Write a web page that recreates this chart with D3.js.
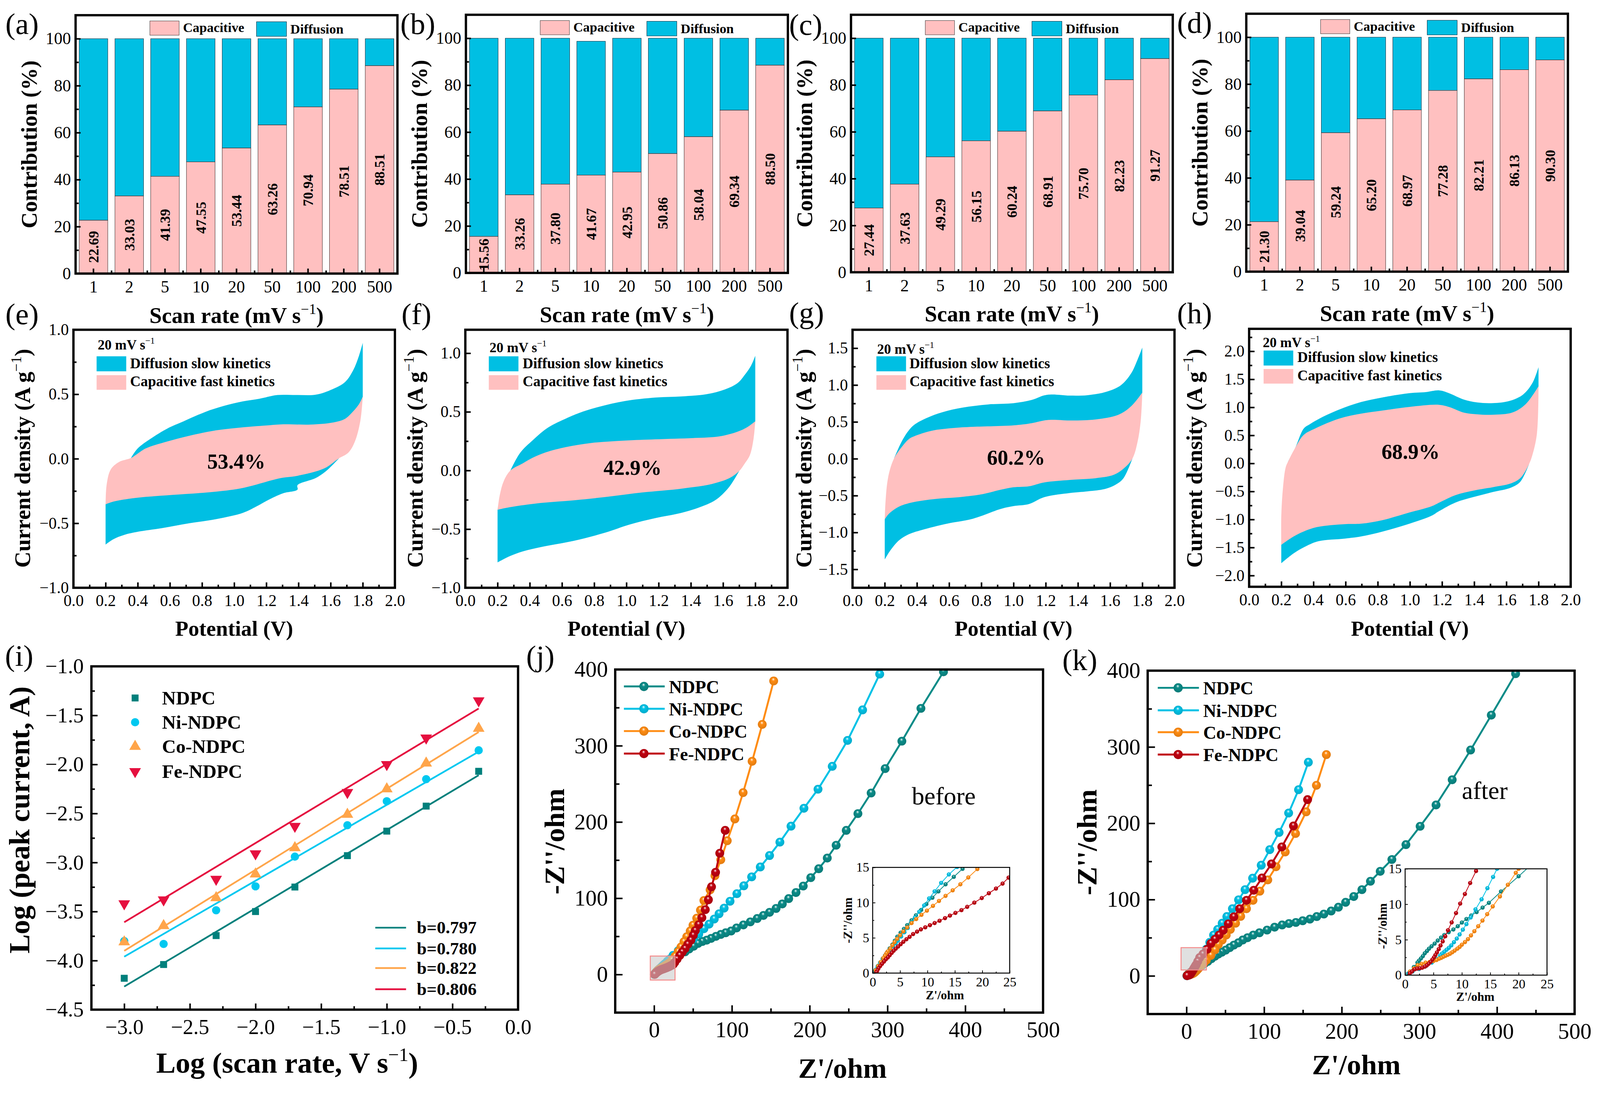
<!DOCTYPE html>
<html lang="en">
<head>
<meta charset="UTF-8">
<title>Capacitive contribution, CV and EIS panels</title>
<style>
  html, body { margin: 0; padding: 0; background: #fff; overflow: hidden; }
  svg { display: block; }
  text { fill: #000; }
</style>
</head>
<body>
<script src="https://cdnjs.cloudflare.com/ajax/libs/d3/7.8.5/d3.min.js"></script>
<script>
// ---- bar panels (a-d)
const scanRates = ['1','2','5','10','20','50','100','200','500'];
const capA = [22.69,33.03,41.39,47.55,53.44,63.26,70.94,78.51,88.51];
const capB = [15.56,33.26,37.80,41.67,42.95,50.86,58.04,69.34,88.50];
const capC = [27.44,37.63,49.29,56.15,60.24,68.91,75.70,82.23,91.27];
const capD = [21.30,39.04,59.24,65.20,68.97,77.28,82.21,86.13,90.30];
const topA = [100,100,100,100,100,100,100,100,100];
const topB = [100,100,100,98.7,100,100,100,100,100];

// ---- CV panels (e-h), [potential, current density]
const eDiffTop = [[.358,.006],[.4,.08],[.48,.155],[.585,.235],[.685,.29],[.82,.363],[.937,.41],[1.055,.445],[1.155,.465],[1.27,.494],[1.39,.494],[1.51,.497],[1.61,.538],[1.69,.595],[1.74,.685],[1.777,.80],[1.8,.898]];
const eDiffBottom = [[1.65,0],[1.575,-.092],[1.508,-.149],[1.394,-.205],[1.394,-.239],[1.306,-.267],[1.222,-.313],[1.138,-.37],[1.055,-.419],[.887,-.468],[.72,-.50],[.55,-.538],[.4,-.566],[.316,-.59],[.248,-.624],[.2,-.665]];
const eCapTop = [[.2,-.353],[.207,-.198],[.232,-.083],[.282,-.026],[.358,.006],[.4,.04],[.45,.08],[.584,.134],[.72,.178],[.887,.22],[1.055,.244],[1.22,.26],[1.306,.267],[1.475,.265],[1.61,.28],[1.69,.31],[1.74,.367],[1.777,.424],[1.8,.481]];
const eCapBottom = [[1.8,.481],[1.785,.293],[1.75,.13],[1.71,.047],[1.65,.002],[1.56,-.075],[1.39,-.133],[1.29,-.15],[1.055,-.226],[.887,-.255],[.618,-.28],[.383,-.304],[.248,-.332],[.2,-.353]];

const fDiffTop = [[.28,0],[.34,.15],[.42,.26],[.515,.367],[.626,.444],[.705,.49],[.83,.543],[.99,.592],[1.18,.622],[1.34,.631],[1.5,.651],[1.61,.69],[1.69,.745],[1.735,.816],[1.775,.897],[1.8,.978]];
const fDiffBottom = [[1.7,-.005],[1.64,-.137],[1.56,-.245],[1.466,-.308],[1.34,-.362],[1.18,-.406],[1.022,-.46],[.864,-.532],[.673,-.60],[.483,-.649],[.357,-.69],[.277,-.73],[.2,-.784]];
const fCapTop = [[.2,-.335],[.214,-.209],[.238,-.092],[.28,0],[.357,.061],[.42,.11],[.5,.155],[.626,.2],[.785,.235],[.99,.255],[1.18,.266],[1.418,.277],[1.577,.291],[1.688,.33],[1.751,.37],[1.8,.42]];
const fCapBottom = [[1.8,.42],[1.79,.277],[1.767,.133],[1.735,.06],[1.70,-.005],[1.64,-.065],[1.53,-.115],[1.34,-.155],[1.1,-.187],[.864,-.227],[.673,-.254],[.467,-.277],[.277,-.313],[.2,-.335]];

const gDiffTop = [[.259,.01],[.303,.224],[.343,.367],[.382,.459],[.46,.553],[.557,.631],[.684,.694],[.842,.737],[1.0,.754],[1.112,.797],[1.19,.86],[1.239,.872],[1.35,.857],[1.461,.863],[1.572,.906],[1.667,.998],[1.73,1.156],[1.77,1.342],[1.8,1.508]];
const gDiffBottom = [[1.738,0],[1.683,-.264],[1.635,-.35],[1.572,-.407],[1.461,-.442],[1.35,-.465],[1.19,-.522],[1.096,-.614],[1.0,-.642],[.921,-.68],[.747,-.814],[.588,-.88],[.43,-.966],[.35,-1.024],[.287,-1.11],[.232,-1.253],[.2,-1.368]];
const gCapTop = [[.2,-.823],[.205,-.58],[.216,-.32],[.232,-.149],[.259,.01],[.303,.152],[.35,.267],[.398,.318],[.493,.381],[.62,.416],[.747,.433],[1.0,.453],[1.112,.482],[1.19,.519],[1.239,.528],[1.35,.519],[1.508,.533],[1.651,.596],[1.73,.711],[1.8,.898]];
const gCapBottom = [[1.8,.898],[1.79,.51],[1.77,.224],[1.738,0],[1.683,-.135],[1.62,-.22],[1.508,-.264],[1.35,-.287],[1.19,-.321],[1.096,-.373],[1.0,-.387],[.921,-.42],[.81,-.479],[.684,-.516],[.493,-.55],[.366,-.594],[.287,-.651],[.224,-.751],[.2,-.823]];

const hDiffTop = [[.243,.038],[.285,.264],[.34,.623],[.377,.698],[.445,.811],[.562,.962],[.696,1.094],[.83,1.177],[.998,1.253],[1.1,1.272],[1.183,1.302],[1.25,1.245],[1.334,1.14],[1.418,1.087],[1.518,1.075],[1.619,1.113],[1.703,1.226],[1.762,1.434],[1.8,1.717]];
const hDiffBottom = [[1.74,-.019],[1.686,-.33],[1.627,-.434],[1.518,-.509],[1.4,-.596],[1.283,-.698],[1.183,-.849],[1.133,-.936],[.998,-1.075],[.83,-1.215],[.696,-1.302],[.596,-1.34],[.428,-1.389],[.344,-1.491],[.277,-1.604],[.2,-1.781]];
const hCapTop = [[.2,-1.453],[.2,-.943],[.21,-.453],[.227,-.075],[.243,.038],[.285,.27],[.34,.509],[.411,.623],[.562,.8],[.696,.887],[.83,.943],[.998,1.008],[1.183,1.045],[1.25,1.0],[1.334,.906],[1.418,.875],[1.518,.868],[1.636,.906],[1.72,1.057],[1.8,1.377]];
const hCapBottom = [[1.8,1.377],[1.79,.528],[1.762,.151],[1.74,-.019],[1.686,-.264],[1.627,-.358],[1.518,-.423],[1.4,-.483],[1.283,-.566],[1.183,-.698],[1.133,-.766],[.998,-.875],[.83,-1.011],[.696,-1.075],[.596,-1.083],[.428,-1.132],[.344,-1.208],[.277,-1.302],[.2,-1.453]];

// ---- log-log panel (i)
const logRate = [-3,-2.7,-2.3,-2,-1.7,-1.3,-1,-.7,-.3];
const iNdpc = [-4.18,-4.04,-3.745,-3.50,-3.25,-2.93,-2.68,-2.425,-2.07];
const iNi = [-3.80,-3.83,-3.487,-3.243,-2.94,-2.62,-2.375,-2.15,-1.856];
const iCo = [-3.81,-3.644,-3.36,-3.118,-2.85,-2.51,-2.25,-1.987,-1.633];
const iFe = [-3.42,-3.38,-3.17,-2.91,-2.63,-2.285,-2.0,-1.73,-1.35];
const fitX = [-3,-.3];
const fitNdpc = [-4.265,-2.11];
const fitNi = [-3.96,-1.87];
const fitCo = [-3.90,-1.67];
const fitFe = [-3.609,-1.43];
const seriesNames = ['NDPC','Ni-NDPC','Co-NDPC','Fe-NDPC'];
const slopeLabels = ['b=0.797','b=0.780','b=0.822','b=0.806'];

// ---- Nyquist panels (j, k), [Z', -Z'']
const jNdpc = [[372,397],[343,349],[318.5,306],[297,270],[279,238],[262,211],[247,189],[234,169.5],[222.6,152.7],[211.6,138.7],[201.4,127],[191.7,116],[182.4,107.5],[173,99.5],[164.8,92.5],[156.8,86.6],[148.4,81.5],[140.5,77.4],[132.5,73.4],[123.7,69],[114.8,65],[106,61],[99,57],[92,54.7],[85.7,52.5],[79.5,50],[73.3,47.3],[67.6,45],[62,43.3],[56.5,40.7],[50.8,37],[45,33.4],[39.8,29.7],[33,26.8],[28,23.5],[24,20.4],[20,17.6],[16.4,14.8],[14.8,13.66],[13.3,12.6],[12,11.6],[10.9,10.7],[9.8,9.8],[8.85,8.96],[7.9,8.2],[7.1,7.5],[6.3,6.8],[5.7,6.27],[5.1,5.74],[4.5,5.17],[4.05,4.6],[3.6,4.04],[3.1,3.5],[2.65,2.95],[2.25,2.5],[1.83,2.04],[1.4,1.5],[1,1.04],[.6,.5],[.3,.13]];
const jNi = [[290,394],[268,347],[248.7,307],[229,273],[210.7,243],[192.6,218],[176,194.5],[161.7,173.6],[148.4,156],[136.5,141],[125.4,128],[115.3,116.3],[106.4,106],[97.6,96],[90,87],[83.5,79.6],[77.3,72.7],[70.7,66],[64,60],[57.4,53],[50.8,47],[44,41.5],[37.5,36],[31,31.2],[24.3,25],[20,20],[17,17.3],[15.4,15.06],[13.9,14],[12.5,12.8],[11.3,11.6],[10.3,10.6],[9.4,9.6],[8.5,8.7],[7.7,7.87],[7,7.2],[6.4,6.4],[5.8,5.8],[5.2,5.2],[4.6,4.6],[4.2,4.2],[3.7,3.8],[3.1,3.2],[2.5,2.7],[1.9,2.1],[1.36,1.5],[.9,.95],[.47,.4]];
const jCo = [[153.7,385],[139,328],[126,279.6],[114.4,238.5],[103.8,204],[94,175.4],[85.7,150.5],[78.2,129.5],[72,111],[64,97],[59.6,84.4],[54.8,73.8],[50,64.6],[46.4,57],[42,49.5],[38.4,43],[34.5,36],[31,30],[27,24],[23,19],[19.1,14.77],[17.45,13.57],[16,12.6],[14.6,11.75],[13.3,10.96],[12.1,10.24],[11,9.54],[9.9,8.87],[8.9,8.27],[7.94,7.67],[7.1,7.1],[6.3,6.47],[5.6,5.92],[5,5.37],[4.47,4.86],[4,4.4],[3.6,3.95],[3.2,3.46],[2.76,3.08],[2.5,2.8],[2.25,2.46],[1.94,2.13],[1.47,1.58],[1,1],[.54,.4]];
const jFe = [[91.4,189],[84.4,159],[79,134],[73.8,115],[69.8,98],[65.8,85],[61.4,74.5],[57.4,65.3],[53,57.6],[50.4,51.4],[47.3,45],[43.3,39.6],[39.8,34],[36.2,29.4],[33,25],[29.6,20.2],[26.5,15.8],[24.8,13.55],[23.7,12.7],[22.5,12],[21.2,11.33],[19.9,10.65],[18.55,10],[17.25,9.4],[16.2,8.94],[15.1,8.54],[14.1,8.16],[13.2,7.8],[12.2,7.43],[11.3,7.1],[10.45,6.8],[9.6,6.5],[8.8,6.2],[8.1,5.88],[7.38,5.54],[6.74,5.15],[6.16,4.8],[5.6,4.44],[5.1,4.1],[4.64,3.77],[4.2,3.46],[3.82,3.17],[3.47,2.86],[3.1,2.53],[2.76,2.22],[2.4,1.95],[2.06,1.64],[1.7,1.31],[1.36,1],[1.05,.67],[.84,.35],[.66,.1]];

const kNdpc = [[424,396],[392.7,341.7],[366,296],[342.3,257],[321.5,224],[301,196],[282.7,172],[264.6,152.5],[249.6,137],[237,124],[226,113],[215.5,104],[205,96.4],[195.7,90],[186.4,85],[177,81],[167.8,77.7],[159,74.4],[149.7,72.2],[140.9,70],[132,68.6],[123.2,66.7],[113.5,63.8],[103.8,60],[94,56.5],[86,53.5],[78.6,50],[72.4,47],[66.7,43.3],[61,40.3],[55.7,37],[50.4,33.7],[45.5,31],[41,28.6],[36.7,25.7],[32.2,22.5],[27.5,19],[23.5,16.5],[20,13.95],[16.9,11.8],[14.76,10.2],[13.65,9.53],[12.6,8.9],[11.64,8.41],[10.8,7.92],[10,7.42],[9.27,6.9],[8.5,6.44],[7.68,6.06],[6.9,5.66],[6.33,5.3],[5.74,4.88],[5.2,4.45],[4.66,4.07],[4.2,3.73],[3.84,3.4],[3.46,3.08],[3.12,2.68],[2.78,2.35],[2.44,2.04],[2.17,1.77],[1.54,1.14],[.86,.5],[.54,.23]];
const kNi = [[157,280],[144.4,244],[131.6,213.4],[119.3,188],[107.3,165.4],[96.3,145],[85.2,128],[75.5,113],[67.1,99.7],[59.2,88],[52,77.7],[46,69],[40.2,60.9],[34.9,53.5],[30,44],[25.6,35],[21.2,25.5],[18,19],[16.2,15],[15.5,13.86],[14.5,12.27],[13.47,10.7],[12.4,9.28],[11.55,8.14],[10.8,7.2],[10.17,6.42],[9.6,5.74],[9.1,5.16],[8.6,4.65],[8.14,4.2],[7.7,3.85],[7.3,3.58],[6.9,3.3],[6.5,3.04],[6.17,2.77],[5.6,2.3],[4.7,1.77],[3.57,1.23],[2.44,.87],[1.3,.5],[.63,.23]];
const kCo = [[180.2,290],[167.4,249.7],[154.2,215],[140.5,186.6],[127.2,162.4],[115.3,143],[104.7,125.8],[94.5,111],[85.7,99],[77.3,88],[69.8,78],[63.2,69],[56.5,60.9],[51.2,53.5],[46,47],[41,41],[36.7,34],[31.4,26.8],[25.6,20.5],[22.5,17],[20,15],[19.5,14.44],[18.1,12.75],[16.7,11.1],[15.44,9.7],[14.46,8.6],[13.63,7.7],[12.88,6.9],[12.2,6.2],[11.6,5.6],[11.07,5.08],[10.55,4.67],[10,4.3],[9.6,3.98],[9.2,3.73],[8.72,3.46],[8.3,3.22],[7.9,3.02],[7.5,2.86],[7.1,2.73],[6.73,2.59],[6.36,2.44],[6,2.32],[5.53,2.13],[5,2],[4.3,1.86],[3.6,1.77],[2.9,1.6],[2.2,1.41],[1.54,.96],[.86,.5]];
const kFe = [[156,231],[137.8,196.5],[122.8,169],[109.5,146.7],[97.2,128.3],[86.6,112.2],[77.3,99],[68.5,88],[61,77.4],[53.9,68.2],[47.3,59.8],[42,53.5],[36.7,48],[31.4,42.5],[26.5,34.8],[21.2,28.6],[17,24],[14.5,19],[12.5,14.7],[11.46,13],[10.53,11.45],[9.7,10.1],[8.97,8.76],[8.2,7.44],[7.55,6.33],[7.07,5.48],[6.62,4.76],[6.24,4.18],[5.92,3.67],[5.6,3.2],[5.33,2.84],[5.08,2.5],[4.8,2.19],[4.47,1.86],[4.13,1.6],[3.8,1.36],[3.46,1.2],[3,1.05],[2.55,.96],[2.1,.92],[1.65,.81],[1.2,.5],[.8,.24]];

// ---- styling and layout
const PINK = '#ffc0c0', BLUE = '#00bfe3';
const seriesColors = ['#0a8c88','#00c2e6','#ff8c12','#c00010'];
const iColors = ['#00807c','#00c8f0','#ffa54a','#e5103f'];
const FONT = "'Liberation Serif'";

// the drawing is laid out on a 4157 x 2822 sheet and scaled to the window
const svg = d3.select('body').append('svg')
  .attr('viewBox', '0 0 4157 2822')
  .attr('preserveAspectRatio', 'xMinYMin meet')
  .style('width', '100vw').style('height', '100vh')
  .attr('font-family', FONT);
const defs = svg.append('defs');

seriesColors.forEach((c, i) => {
  const grad = defs.append('radialGradient').attr('id', 'ball' + i)
    .attr('fx', .45).attr('fy', .28).attr('r', .55);
  grad.append('stop').attr('offset', '0%').attr('stop-color', '#fff');
  grad.append('stop').attr('offset', '32%').attr('stop-color', c);
  grad.append('stop').attr('offset', '100%').attr('stop-color', d3.color(c).darker(.4));
});

// text with an optional superscript part
function label(x, y, size, bold, anchor, rotate, parts) {
  const t = svg.append('text')
    .attr('transform', `translate(${x},${y})` + (rotate ? ' rotate(-90)' : ''))
    .attr('font-size', size)
    .attr('font-weight', bold ? 'bold' : 'normal')
    .attr('text-anchor', anchor);
  const [head, sup, tail] = [].concat(parts);
  t.append('tspan').text(head);
  if (sup) {
    t.append('tspan').attr('dy', -size * .4).attr('font-size', size * .65).attr('font-weight', 'normal').text(sup);
    t.append('tspan').attr('dy', size * .4).text(tail);
  }
  return t;
}

function styleAxis(sel, fontSize, width) {
  sel.select('.domain').remove();
  sel.selectAll('line').attr('stroke', '#000').attr('stroke-width', width);
  sel.selectAll('text').attr('font-size', fontSize).attr('font-family', FONT).attr('fill', '#000');
}

// major + minor ticks on bottom and left, all pointing inward
function drawAxes(box, x, y, o) {
  const g = svg.append('g');
  const bottom = d3.axisBottom(x).tickSize(-o.major).tickPadding(o.padX);
  if (o.xTicks) bottom.tickValues(o.xTicks);
  if (o.xFormat) bottom.tickFormat(o.xFormat);
  g.append('g').attr('transform', `translate(0,${box.B})`).call(bottom).call(styleAxis, o.size, o.stroke);
  const minorScale = o.xMinorScale || x;
  g.append('g').attr('transform', `translate(0,${box.B})`)
    .call(d3.axisBottom(minorScale).tickValues(o.xMinor).tickSize(-o.minor).tickFormat(''))
    .call(styleAxis, o.size, o.stroke);
  g.append('g').attr('transform', `translate(${box.L},0)`)
    .call(d3.axisLeft(y).tickValues(o.yTicks).tickSize(-o.major).tickPadding(o.padY).tickFormat(o.yFormat || d3.format('d')))
    .call(styleAxis, o.size, o.stroke);
  g.append('g').attr('transform', `translate(${box.L},0)`)
    .call(d3.axisLeft(y).tickValues(o.yMinor).tickSize(-o.minor).tickFormat(''))
    .call(styleAxis, o.size, o.stroke);
  svg.append('rect').attr('x', box.L).attr('y', box.T)
    .attr('width', box.R - box.L).attr('height', box.B - box.T)
    .attr('fill', 'none').attr('stroke', '#000').attr('stroke-width', o.frame);
}

function clipFor(id, box) {
  defs.append('clipPath').attr('id', id).append('rect')
    .attr('x', box.L).attr('y', box.T).attr('width', box.R - box.L).attr('height', box.B - box.T);
  return `url(#${id})`;
}

// ---- a-d
const barPanels = [
  { name: '(a)', cap: capA, top: topA, box: { L: 196.4, R: 1032.6, T: 39.5, B: 711 }, lx: 14, ly: 88 },
  { name: '(b)', cap: capB, top: topB, box: { L: 1210.5, R: 2047, T: 38.4, B: 709.3 }, lx: 1040, ly: 88 },
  { name: '(c)', cap: capC, top: topA, box: { L: 2211, R: 3047, T: 38.4, B: 707.6 }, lx: 2050, ly: 90 },
  { name: '(d)', cap: capD, top: topA, box: { L: 3238, R: 4073.6, T: 35.7, B: 706 }, lx: 3058, ly: 85 }
];

barPanels.forEach(p => {
  const b = p.box;
  const x = d3.scaleBand().domain(scanRates).range([b.L, b.R]).paddingInner(.2).paddingOuter(.1);
  const y = d3.scaleLinear().domain([0, 110]).range([b.B, b.T]);
  const g = svg.append('g');
  g.selectAll('.diff').data(scanRates).enter().append('rect')
    .attr('x', d => x(d)).attr('width', x.bandwidth())
    .attr('y', (d, i) => y(p.top[i])).attr('height', (d, i) => y(p.cap[i]) - y(p.top[i]))
    .attr('fill', BLUE).attr('stroke', '#123').attr('stroke-width', 1);
  g.selectAll('.cap').data(scanRates).enter().append('rect')
    .attr('x', d => x(d)).attr('width', x.bandwidth())
    .attr('y', (d, i) => y(p.cap[i])).attr('height', (d, i) => y(0) - y(p.cap[i]))
    .attr('fill', PINK).attr('stroke', '#322').attr('stroke-width', 1);
  drawAxes(b, x, y, {
    major: 13, minor: 8, padX: 18, padY: 12, size: 44, stroke: 4, frame: 6,
    xMinorScale: d3.scaleLinear().domain([0, 9]).range([b.L, b.R]),
    xMinor: d3.range(1, 9),
    yTicks: d3.range(0, 101, 20), yMinor: d3.range(10, 100, 20)
  });
  scanRates.forEach((d, i) => {
    label(x(d) + x.bandwidth() / 2 + 13, (y(0) + y(p.cap[i])) / 2, 37, true, 'middle', true, p.cap[i].toFixed(2));
  });
  // legend
  svg.append('rect').attr('x', b.L + 193).attr('y', b.T + 15).attr('width', 76).attr('height', 37)
    .attr('fill', PINK).attr('stroke', '#333').attr('stroke-width', 1);
  label(b.L + 279, b.T + 44, 35, true, 'start', false, 'Capacitive');
  svg.append('rect').attr('x', b.L + 470).attr('y', b.T + 17).attr('width', 78).attr('height', 38)
    .attr('fill', BLUE).attr('stroke', '#123').attr('stroke-width', 1);
  label(b.L + 558, b.T + 48, 35, true, 'start', false, 'Diffusion');

  label(b.L - 101, (b.T + b.B) / 2, 58, true, 'middle', true, 'Contribution (%)');
  label((b.L + b.R) / 2, b.B + 128, 58, true, 'middle', false, ['Scan rate (mV s', '\u22121', ')']);
  label(p.lx, p.ly, 78, false, 'start', false, p.name);
});

// ---- e-h
const cvLine = d3.line().x(d => d[0]).y(d => d[1]).curve(d3.curveCatmullRom.alpha(.5));
const cvPanels = [
  { name: '(e)', pct: '53.4%', lx: 14, ly: 842, box: { L: 190.8, R: 1026, T: 857, B: 1527.6 }, dom: [-1, 1],
    top: eDiffTop, bot: eDiffBottom, capTop: eCapTop, capBot: eCapBottom,
    yTicks: [-1, -.5, 0, .5, 1], yMinor: [-.75, -.25, .25, .75], titleX: 78.5,
    px: 614, py: 1218, noteX: 254, noteY: 908, boxX: 251, textX: 338, rowY: [926, 975], textY: [957, 1004] },
  { name: '(f)', pct: '42.9%', lx: 1043, ly: 842, box: { L: 1209, R: 2046, T: 857, B: 1527.6 }, dom: [-1, 1.2],
    top: fDiffTop, bot: fDiffBottom, capTop: fCapTop, capBot: fCapBottom,
    yTicks: [-1, -.5, 0, .5, 1], yMinor: [-.75, -.25, .25, .75], titleX: 1098,
    px: 1643.6, py: 1234, noteX: 1272, noteY: 915, boxX: 1270, textX: 1358, rowY: [926, 975], textY: [957, 1004] },
  { name: '(g)', pct: '60.2%', lx: 2050, ly: 839, box: { L: 2215, R: 3051.5, T: 857, B: 1527.6 }, dom: [-1.75, 1.75],
    top: gDiffTop, bot: gDiffBottom, capTop: gCapTop, capBot: gCapBottom,
    yTicks: [-1.5, -1, -.5, 0, .5, 1, 1.5], yMinor: [-1.25, -.75, -.25, .25, .75, 1.25], titleX: 2108,
    px: 2640, py: 1208, noteX: 2279, noteY: 919, boxX: 2277, textX: 2363, rowY: [926, 975], textY: [957, 1004] },
  { name: '(h)', pct: '68.9%', lx: 3058, ly: 840, box: { L: 3245.4, R: 4080.8, T: 854.6, B: 1525 }, dom: [-2.2, 2.4],
    top: hDiffTop, bot: hDiffBottom, capTop: hCapTop, capBot: hCapBottom,
    yTicks: [-2, -1.5, -1, -.5, 0, .5, 1, 1.5, 2], yMinor: [-1.75, -1.25, -.75, -.25, .25, .75, 1.25, 1.75, 2.25], titleX: 3123,
    px: 3665, py: 1192, noteX: 3281, noteY: 902, boxX: 3283, textX: 3370.6, rowY: [911, 959], textY: [941, 989] }
];

cvPanels.forEach(p => {
  const b = p.box;
  const x = d3.scaleLinear().domain([0, 2]).range([b.L, b.R]);
  const y = d3.scaleLinear().domain(p.dom).range([b.B, b.T]);
  const px = pts => pts.map(d => [x(d[0]), y(d[1])]);
  const capFirst = p.capTop[0], capLast = p.capTop[p.capTop.length - 1];
  const diffPath = cvLine(px(p.top))
    + `L${x(capLast[0])},${y(capLast[1])}`
    + cvLine(px(p.bot)).replace('M', 'L')
    + `L${x(capFirst[0])},${y(capFirst[1])}Z`;
  svg.append('path').attr('d', diffPath).attr('fill', BLUE);
  svg.append('path').attr('d', cvLine(px(p.capTop)) + cvLine(px(p.capBot)).replace('M', 'L') + 'Z').attr('fill', PINK);
  drawAxes(b, x, y, {
    major: 14, minor: 8, padX: 18, padY: 12, size: 42, stroke: 4, frame: 6,
    xTicks: d3.range(0, 2.01, .2), xFormat: d3.format('.1f'),
    xMinor: d3.range(.1, 2, .2),
    yTicks: p.yTicks, yMinor: p.yMinor, yFormat: d3.format('.1f')
  });
  label(p.noteX, p.noteY, 36, true, 'start', false, ['20 mV s', '\u22121', '']);
  svg.append('rect').attr('x', p.boxX).attr('y', p.rowY[0]).attr('width', 77).attr('height', 39).attr('fill', BLUE);
  svg.append('rect').attr('x', p.boxX).attr('y', p.rowY[1]).attr('width', 77).attr('height', 38).attr('fill', PINK);
  label(p.textX, p.textY[0], 38, true, 'start', false, 'Diffusion slow kinetics');
  label(p.textX, p.textY[1], 38, true, 'start', false, 'Capacitive fast kinetics');
  label(p.px, p.py, 55, true, 'middle', false, p.pct);
  label(p.titleX, 1191, 58, true, 'middle', true, ['Current density (A g', '\u22121', ')']);
  label((b.L + b.R) / 2, 1652, 56, true, 'middle', false, 'Potential (V)');
  label(p.lx, p.ly, 78, false, 'start', false, p.name);
});

// ---- i
{
  const b = { L: 237.5, R: 1346, T: 1731.8, B: 2624 };
  const x = d3.scaleLinear().domain([-3.25, 0]).range([b.L, b.R]);
  const y = d3.scaleLinear().domain([-4.5, -1]).range([b.B, b.T]);
  const symbols = [
    d3.symbol().type(d3.symbolSquare).size(324)(),
    d3.symbol().type(d3.symbolCircle).size(360)(),
    d3.symbol().type(d3.symbolTriangle).size(400)(),
    d3.symbol().type(d3.symbolTriangle).size(400)()
  ];
  const turn = [0, 0, 0, 180];
  [iNdpc, iNi, iCo, iFe].forEach((vals, s) => {
    const fit = [fitNdpc, fitNi, fitCo, fitFe][s];
    svg.append('line')
      .attr('x1', x(fitX[0])).attr('y1', y(fit[0]))
      .attr('x2', x(fitX[1])).attr('y2', y(fit[1]))
      .attr('stroke', iColors[s]).attr('stroke-width', 4.5);
    svg.append('g').selectAll('path').data(vals).enter().append('path')
      .attr('d', symbols[s])
      .attr('transform', (d, i) => `translate(${x(logRate[i])},${y(d)}) rotate(${turn[s]})`)
      .attr('fill', iColors[s]);
  });
  drawAxes(b, x, y, {
    major: 16, minor: 9, padX: 24, padY: 20, size: 55, stroke: 4, frame: 6,
    xTicks: d3.range(-3, .01, .5), xFormat: d3.format('.1f'),
    xMinor: d3.range(-2.75, 0, .5),
    yTicks: d3.range(-4.5, -.99, .5), yMinor: d3.range(-4.25, -1, .5), yFormat: d3.format('.1f')
  });
  const legendY = [1814, 1877, 1940, 2005];
  seriesNames.forEach((n, s) => {
    svg.append('path').attr('d', symbols[s])
      .attr('transform', `translate(351,${legendY[s]}) rotate(${turn[s]})`)
      .attr('fill', iColors[s]);
    label(421, legendY[s] + 17, 50, true, 'start', false, n);
  });
  const slopeY = [2411, 2465, 2516, 2571];
  slopeLabels.forEach((n, s) => {
    svg.append('line').attr('x1', 975).attr('x2', 1055).attr('y1', slopeY[s]).attr('y2', slopeY[s])
      .attr('stroke', iColors[s]).attr('stroke-width', 4.5);
    label(1083, slopeY[s] + 15, 46, true, 'start', false, n);
  });
  label(76, 2131, 75, true, 'middle', true, 'Log (peak current, A)');
  label(746, 2788, 76, true, 'middle', false, ['Log (scan rate, V s', '\u22121', ')']);
  label(13, 1730, 78, false, 'start', false, '(i)');
}

// ---- j, k
const nyLine = d3.line().x(d => d[0]).y(d => d[1]);

function drawSeries(id, box, x, y, data, r, width) {
  const clip = clipFor(id, box);
  const g = svg.append('g').attr('clip-path', clip);
  data.forEach((pts, s) => {
    g.append('path').attr('d', nyLine(pts.map(d => [x(d[0]), y(d[1])])))
      .attr('fill', 'none').attr('stroke', seriesColors[s]).attr('stroke-width', width);
    g.append('g').selectAll('circle').data(pts).enter().append('circle')
      .attr('cx', d => x(d[0])).attr('cy', d => y(d[1])).attr('r', r)
      .attr('fill', `url(#ball${s})`);
  });
}

const nyPanels = [
  { id: 'j', name: '(j)', lx: 1367, ly: 1731, word: 'before', wx: 2369, wy: 2091, data: [jNdpc, jNi, jCo, jFe],
    box: { L: 1598.4, R: 2710, T: 1740, B: 2631.7 }, rect: [-4.9, 26.9, -7.3, 24.2],
    leg: { x1: 1621, x2: 1727, cx: 1673, tx: 1738, ys: [1784, 1842, 1900, 1958.5] },
    yTitleX: 1465, yTitleY: 2187, xTitleX: 2189, xTitleY: 2801,
    inset: { box: { L: 2267.3, R: 2623.3, T: 2254.3, B: 2529 }, xt: [2455, 2597], yt: [2213, 2392] } },
  { id: 'k', name: '(k)', lx: 2760, ly: 1742, word: 'after', wx: 3798, wy: 2076, data: [kNdpc, kNi, kCo, kFe],
    box: { L: 2981.8, R: 4091, T: 1743, B: 2635.4 }, rect: [-7, 25.6, 7.7, 37],
    leg: { x1: 3008, x2: 3115, cx: 3061, tx: 3126, ys: [1787.6, 1846, 1903, 1961] },
    yTitleX: 2849, yTitleY: 2189, xTitleX: 3524, xTitleY: 2792,
    inset: { box: { L: 3650.7, R: 4019.3, T: 2258, B: 2534.3 }, xt: [3833, 2601], yt: [3603, 2407] } }
];

nyPanels.forEach(p => {
  const b = p.box;
  const x = d3.scaleLinear().domain([-50, 500]).range([b.L, b.R]);
  const y = d3.scaleLinear().domain([-50, 400]).range([b.B, b.T]);
  drawSeries('clip' + p.id, b, x, y, p.data, 11.5, 5);
  svg.append('rect')
    .attr('x', x(p.rect[0])).attr('width', x(p.rect[1]) - x(p.rect[0]))
    .attr('y', y(p.rect[3])).attr('height', y(p.rect[2]) - y(p.rect[3]))
    .attr('fill', '#ccc').attr('fill-opacity', .6)
    .attr('stroke', '#f48a8a').attr('stroke-width', 2.5);
  drawAxes(b, x, y, {
    major: 19, minor: 11, padX: 23, padY: 19, size: 58, stroke: 4, frame: 6,
    xTicks: d3.range(0, 501, 100), xMinor: d3.range(50, 500, 100),
    yTicks: d3.range(0, 401, 100), yMinor: d3.range(50, 400, 100)
  });
  seriesNames.forEach((n, s) => {
    const ly = p.leg.ys[s];
    svg.append('line').attr('x1', p.leg.x1).attr('x2', p.leg.x2).attr('y1', ly).attr('y2', ly)
      .attr('stroke', seriesColors[s]).attr('stroke-width', 5);
    svg.append('circle').attr('cx', p.leg.cx).attr('cy', ly).attr('r', 12).attr('fill', `url(#ball${s})`);
    label(p.leg.tx, ly + 17, 47, true, 'start', false, n);
  });
  label(p.wx, p.wy, 65, false, 'start', false, p.word);
  label(p.yTitleX, p.yTitleY, 74, true, 'middle', true, "-Z''/ohm");
  label(p.xTitleX, p.xTitleY, 74, true, 'middle', false, "Z'/ohm");
  label(p.lx, p.ly, 78, false, 'start', false, p.name);

  // zoomed-in inset, same series
  const ib = p.inset.box;
  const ix = d3.scaleLinear().domain([0, 25]).range([ib.L, ib.R]);
  const iy = d3.scaleLinear().domain([0, 15]).range([ib.B, ib.T]);
  drawSeries('clipi' + p.id, ib, ix, iy, p.data, 5.5, 2);
  drawAxes(ib, ix, iy, {
    major: 7, minor: 4, padX: 10, padY: 9, size: 34, stroke: 2, frame: 2.5,
    xTicks: d3.range(0, 26, 5), xMinor: d3.range(2.5, 25, 5),
    yTicks: d3.range(0, 16, 5), yMinor: d3.range(2.5, 15, 5)
  });
  label(p.inset.xt[0], p.inset.xt[1], 32, true, 'middle', false, "Z'/ohm");
  label(p.inset.yt[0], p.inset.yt[1], 32, true, 'middle', true, "-Z''/ohm");
});
</script>
</body>
</html>
